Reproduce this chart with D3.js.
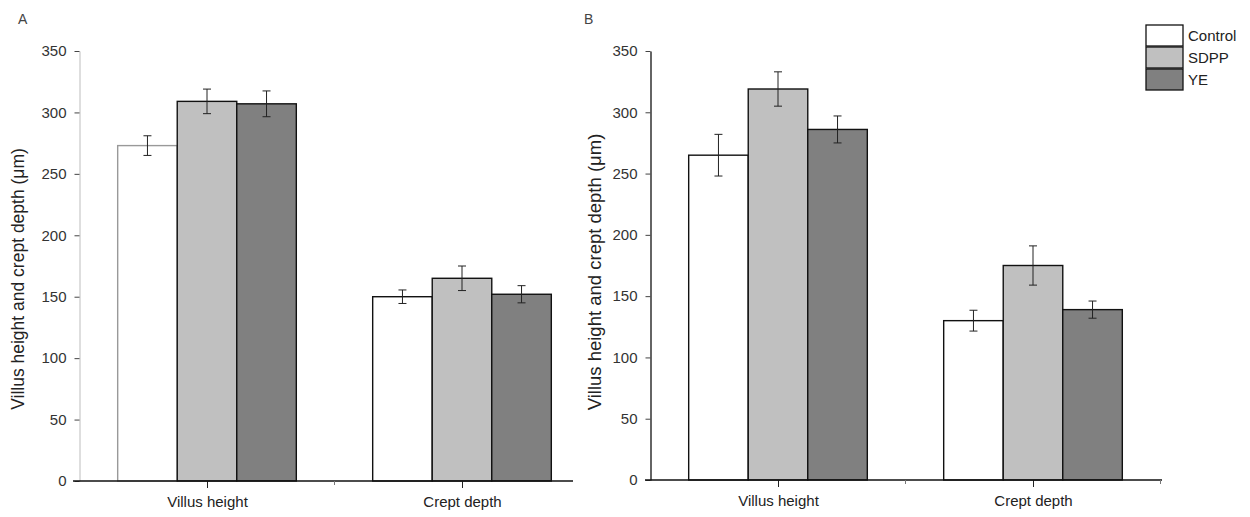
<!DOCTYPE html>
<html><head><meta charset="utf-8">
<script src="https://cdn.jsdelivr.net/npm/d3@7"></script>
<style>body{margin:0;background:#fff}svg{display:block}</style>
</head><body>
<svg id="c" width="1250" height="517"></svg>
<script>
const categories = ["Villus height", "Crept depth"];
const groups = ["Control", "SDPP", "YE"];
const colors = ["#ffffff", "#c0c0c0", "#808080"];
const yTicks = [0, 50, 100, 150, 200, 250, 300, 350];
// Panel A (means, SEM) per group, per category
const aControl = [273, 150], aControlErr = [8, 5.5];
const aSDPP = [309, 165], aSDPPErr = [10, 10];
const aYE = [307, 152], aYEErr = [10.5, 7];
// Panel B
const bControl = [265, 130], bControlErr = [17, 8.5];
const bSDPP = [319, 175], bSDPPErr = [14, 16];
const bYE = [286, 139], bYEErr = [11, 7];

const svg = d3.select("#c");
const font = "Arial, 'Liberation Sans', sans-serif";

function panel(o) {
  const g = svg.append("g");
  const y = d3.scaleLinear().domain([0, 350]).range([o.y0, o.y1]);
  const x = d3.scaleLinear().domain([0.5, 2.5]).range([o.x0, o.x0 + 510]);
  const bw = 0.2335;
  const series = [o.ctrl, o.sdpp, o.ye];
  const errs = [o.ctrlE, o.sdppE, o.yeE];
  series.forEach((vals, gi) => {
    vals.forEach((v, ci) => {
      const cx = ci + 1 + (gi - 1) * bw;
      const xl = x(cx - bw / 2), xr = x(cx + bw / 2);
      g.append("rect").attr("x", xl).attr("y", y(v))
        .attr("width", xr - xl).attr("height", y(0) - y(v))
        .attr("fill", colors[gi])
        .attr("stroke", (o.name === "A" && gi === 0 && ci === 0) ? "#999" : "#111")
        .attr("stroke-width", 1.4);
      const e = errs[gi][ci];
      const xc = x(cx);
      g.append("line").attr("x1", xc).attr("x2", xc).attr("y1", y(v + e)).attr("y2", y(v - e))
        .attr("stroke", "#222").attr("stroke-width", 1);
      [v + e, v - e].forEach(t => g.append("line").attr("x1", xc - 4).attr("x2", xc + 4)
        .attr("y1", y(t)).attr("y2", y(t)).attr("stroke", "#222").attr("stroke-width", 1));
    });
  });
  // y axis
  const ya = g.append("g").attr("transform", `translate(${o.x0},0)`)
    .call(d3.axisLeft(y).tickValues(yTicks).tickSize(5).tickSizeOuter(0).tickPadding(8));
  ya.select(".domain").attr("stroke", o.yAxisColor).attr("stroke-width", 1.3);
  ya.selectAll(".tick line").attr("stroke", "#444");
  ya.selectAll("text").attr("font-size", 15).attr("font-family", font).attr("fill", "#333");
  // x axis
  const xa = g.append("g").attr("transform", `translate(0,${o.y0})`)
    .call(d3.axisBottom(x).tickValues([1, 2]).tickSize(7).tickSizeOuter(0)
      .tickFormat((d) => categories[d - 1]).tickPadding(8));
  xa.select(".domain").remove();
  xa.append("line").attr("x1", o.xa0).attr("x2", o.xa1).attr("stroke", "#111").attr("stroke-width", 1.5);
  xa.selectAll(".tick line").attr("stroke", "#222");
  xa.selectAll("text").attr("font-size", 15).attr("font-family", font).attr("fill", "#222");
  [1.5, 2.5].forEach(t => { if (x(t) <= o.xa1 + 1) xa.append("line").attr("x1", x(t)).attr("x2", x(t))
    .attr("y1", 0).attr("y2", 4).attr("stroke", "#777"); });
  // y label
  g.append("text").attr("transform", `translate(${o.labX},${o.labY}) rotate(-90)`)
    .attr("text-anchor", "middle").attr("font-size", o.labSize).attr("font-family", font).attr("fill", "#222")
    .text("Villus height and crept depth (μm)");
  g.append("text").attr("x", o.letX).attr("y", 24).attr("font-size", 14).attr("font-family", font)
    .attr("fill", "#444").text(o.name);
}

panel({name: "A", x0: 79.5, y0: 481, y1: 51, xa0: 73, xa1: 573, labX: 24, labY: 279, labSize: 17.5, letX: 18,
  yAxisColor: "#ccc", ctrl: aControl, sdpp: aSDPP, ye: aYE, ctrlE: aControlErr, sdppE: aSDPPErr, yeE: aYEErr});
panel({name: "B", x0: 650.5, y0: 480, y1: 51, xa0: 645, xa1: 1162, labX: 601, labY: 272, labSize: 18.5, letX: 584,
  yAxisColor: "#111", ctrl: bControl, sdpp: bSDPP, ye: bYE, ctrlE: bControlErr, sdppE: bSDPPErr, yeE: bYEErr});

// legend
const lg = svg.append("g").attr("transform", "translate(1146,25)");
groups.forEach((name, i) => {
  lg.append("rect").attr("x", 0).attr("y", i * 22).attr("width", 37).attr("height", 21)
    .attr("fill", colors[i]).attr("stroke", "#111").attr("stroke-width", 1.3);
  lg.append("text").attr("x", 42).attr("y", i * 22 + 16).attr("font-size", 15)
    .attr("font-family", font).attr("fill", "#222").text(name);
});
</script>
</body></html>
